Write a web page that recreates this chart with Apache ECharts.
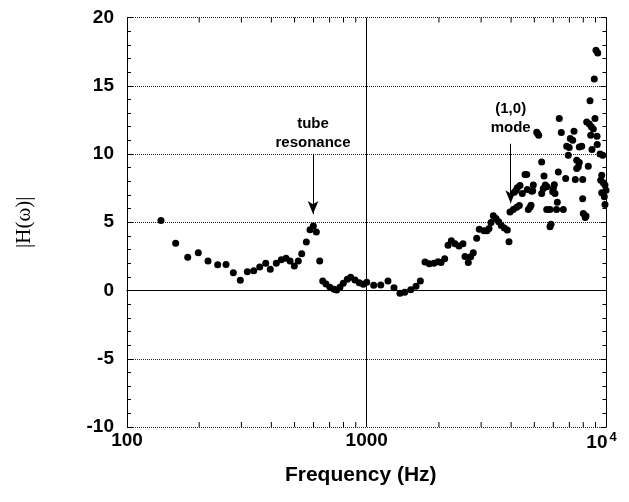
<!DOCTYPE html>
<html>
<head>
<meta charset="utf-8">
<script src="https://cdn.jsdelivr.net/npm/echarts@6.0.0/dist/echarts.min.js"></script>
<style>
html, body { margin: 0; padding: 0; background: #fff; }
#chart { width: 629px; height: 502px; }
</style>
</head>
<body>
<div id="chart"></div>
<script>
// measured points, frequency in Hz
var freqHz = [
	138.6, 159.6, 179.2, 198.3, 217.7, 238.9, 258.8, 277.6, 296.9, 317.6,
	337.7, 357.7, 378.9, 396, 419.5, 440.2, 460.5, 478.6, 498.7, 518.2,
	535.5, 559.7, 579.9, 598.6, 616.1, 636.6, 655.2, 676, 702, 730,
	749, 773, 798, 830, 857, 893, 931, 967, 1000, 1069,
	1144, 1226, 1299, 1376, 1440, 1525, 1605, 1673, 1750, 1824,
	1908, 1983, 2041, 2114, 2183, 2253, 2334, 2425, 2520, 2569,
	2652, 2714, 2782, 2874, 2947, 3083, 3174, 3236, 3299, 3373,
	3461, 3551, 3641, 3747, 3857, 3920, 3958, 4087, 4223, 4330,
	4125, 4194, 4246, 4358, 4455, 4572, 4648, 4675, 4875, 4720,
	4844, 4797, 4951, 4923, 5116, 5160, 5214, 5366, 5366, 5487,
	5450, 5556, 5648, 5632, 5813, 5813, 5870, 5965, 6000, 6058,
	6099, 6190, 6235, 6295, 6354, 6479, 6604, 6757, 6823, 6991,
	6926, 7063, 7228, 7318, 7411, 7511, 7702, 7511, 7628, 7702,
	7881, 7956, 7956, 8002, 8150, 8213, 8268, 8478, 8642, 8810,
	8397, 8535, 8592, 8700, 8893, 8953, 9040, 9190, 9150, 9129,
	9395, 9643, 9458, 9698, 9856, 9952, 9550, 9550, 9790, 9856
];
var magnitude = [
	5.13, 3.47, 2.43, 2.77, 2.16, 1.89, 1.91, 1.30, 0.75, 1.38,
	1.45, 1.72, 1.99, 1.55, 1.99, 2.25, 2.36, 2.16, 1.79, 2.16,
	2.69, 3.55, 4.45, 4.72, 4.28, 2.16, 0.69, 0.47, 0.23, 0.09,
	0.04, 0.23, 0.53, 0.82, 0.97, 0.77, 0.57, 0.45, 0.6, 0.38,
	0.40, 0.69, 0.2, -0.2, -0.13, 0.06, 0.31, 0.69, 2.08, 1.96,
	1.99, 2.11, 2.06, 2.33, 3.31, 3.64, 3.42, 3.26, 3.42, 2.5,
	2.06, 2.47, 2.77, 3.82, 4.48, 4.37, 4.37, 4.55, 4.99, 5.47,
	5.28, 5.03, 4.77, 4.57, 4.43, 3.57, 5.76, 5.94, 6.09, 6.23,
	7.2, 7.33, 7.52, 7.70, 7.11, 8.5, 8.5, 7.40, 7.28, 5.94,
	6.25, 6.09, 7.72, 7.3, 11.6, 11.5, 11.37, 9.42, 7.11, 8.38,
	7.48, 7.72, 7.6, 5.94, 5.94, 4.67, 4.86, 7.23, 7.48, 7.74,
	7.11, 5.94, 6.46, 8.69, 12.6, 11.57, 5.94, 8.2, 10.57, 10.48,
	9.91, 11.13, 11.0, 11.67, 8.13, 9.55, 9.38, 8.94, 9.06, 10.52,
	10.57, 8.13, 6.72, 5.64, 5.35, 5.45, 12.35, 12.2, 12.0, 11.83,
	9.11, 13.91, 11.37, 10.33, 15.49, 12.6, 17.6, 17.4, 10.7, 11.3,
	10.0, 9.91, 8.08, 7.89, 7.72, 7.35, 8.45, 7.16, 6.86, 6.3
];

var yTicks = [-10, -5, 0, 5, 10, 15, 20];
var xMinorTicks = [200, 300, 400, 500, 600, 700, 800, 900, 2000, 3000, 4000, 5000, 6000, 7000, 8000, 9000];

// annotation text + arrows, in data coordinates
var tubeLabel = { x: 597, lines: ['tube', 'resonance'], y: [12.24, 10.85], arrowFrom: 10.0, arrowTo: 5.6 };
var modeLabel = { x: 3985, lines: ['(1,0)', 'mode'], y: [13.34, 11.95], arrowFrom: 10.75, arrowTo: 6.4 };

var points = freqHz.map(function(f, i) { return [f, magnitude[i]]; });

var chart = echarts.init(document.getElementById('chart'));

var boldFont = {
	fontFamily: 'Liberation Sans, Arial, sans-serif',
	fontWeight: 'bold',
	color: '#000'
};

function textPoints(a) {
	return a.lines.map(function(t, i) {
		return { name: t, coord: [a.x, a.y[i]] };
	});
}

chart.setOption({
	animation: false,
	grid: { left: 127, right: 22.5, top: 17.5, bottom: 75 },
	xAxis: [
		{
			type: 'log',
			logBase: 10,
			min: 100,
			max: 10000,
			position: 'bottom',
			name: 'Frequency (Hz)',
			nameLocation: 'middle',
			nameGap: 38,
			nameTextStyle: Object.assign({ fontSize: 21, padding: [0, 12, 0, 0] }, boldFont),
			axisLine: { lineStyle: { color: '#000', width: 1 } },
			axisTick: { inside: true, length: 6, lineStyle: { color: '#000' } },
			splitLine: { show: false },
			axisLabel: Object.assign({
				fontSize: 19,
				margin: 4,
				formatter: function(v) {
					if (v >= 9999) return '{b|10}{s|4}';
					return Math.round(v).toString();
				},
				rich: {
					b: Object.assign({ fontSize: 19 }, boldFont),
					s: Object.assign({ fontSize: 13, verticalAlign: 'top', padding: [0, 10, 10, 2] }, boldFont)
				}
			}, boldFont)
		},
		{
			type: 'log',
			logBase: 10,
			min: 100,
			max: 10000,
			position: 'top',
			axisLine: { lineStyle: { color: '#000', width: 1 } },
			axisTick: { inside: true, length: 6, lineStyle: { color: '#000' } },
			axisLabel: { show: false },
			splitLine: { show: false }
		}
	],
	yAxis: [
		{
			type: 'value',
			min: yTicks[0],
			max: yTicks[yTicks.length - 1],
			interval: 5,
			name: '|H(\u03c9)|',
			nameLocation: 'middle',
			nameRotate: 90,
			nameGap: 92,
			nameTextStyle: { fontFamily: 'Liberation Serif, Times New Roman, serif', fontSize: 21, color: '#000' },
			axisLine: { show: true, lineStyle: { color: '#000', width: 1 } },
			axisTick: { show: true, inside: true, length: 6, lineStyle: { color: '#000' } },
			minorTick: { show: true, splitNumber: 5, length: 4, lineStyle: { color: '#000' } },
			splitLine: { show: true, lineStyle: { type: 'dotted', color: '#222', width: 1 } },
			axisLabel: Object.assign({ fontSize: 19, margin: 13 }, boldFont)
		},
		{
			type: 'value',
			min: yTicks[0],
			max: yTicks[yTicks.length - 1],
			interval: 5,
			position: 'right',
			axisLine: { show: true, lineStyle: { color: '#000', width: 1 } },
			axisTick: { show: true, inside: true, length: 6, lineStyle: { color: '#000' } },
			minorTick: { show: true, splitNumber: 5, length: 4, lineStyle: { color: '#000' } },
			splitLine: { show: false },
			axisLabel: { show: false }
		}
	],
	series: [
		{
			type: 'scatter',
			data: points,
			symbolSize: 7,
			itemStyle: { color: '#000', opacity: 1 },
			silent: true,
			markLine: {
				silent: true,
				symbol: ['none', 'none'],
				label: { show: false },
				lineStyle: { color: '#000', width: 1, type: 'solid' },
				data: [
					{ xAxis: 1000 },
					[
						{ coord: [tubeLabel.x, tubeLabel.arrowFrom], symbol: 'none' },
						{ coord: [tubeLabel.x, tubeLabel.arrowTo], symbol: 'arrow', symbolSize: [8, 13] }
					],
					[
						{ coord: [modeLabel.x, modeLabel.arrowFrom], symbol: 'none' },
						{ coord: [modeLabel.x, modeLabel.arrowTo], symbol: 'arrow', symbolSize: [8, 13] }
					]
				]
			},
			markPoint: {
				silent: true,
				symbol: 'rect',
				symbolSize: 0,
				label: Object.assign({
					show: true,
					position: 'inside',
					fontSize: 15,
					formatter: function(p) { return p.name; }
				}, boldFont),
				data: textPoints(tubeLabel).concat(textPoints(modeLabel))
			}
		},
		{
			// minor ticks of the log axis (200..900, 2000..9000), top and bottom
			type: 'custom',
			silent: true,
			data: xMinorTicks.map(function(f) { return [f, yTicks[0]]; }),
			encode: { x: 0, y: 1 },
			renderItem: function(params, api) {
				var f = api.value(0);
				var b = api.coord([f, yTicks[0]]);
				var t = api.coord([f, yTicks[yTicks.length - 1]]);
				return {
					type: 'group',
					children: [
						{ type: 'line', shape: { x1: b[0], y1: b[1], x2: b[0], y2: b[1] - 5 }, style: { stroke: '#000', lineWidth: 1 } },
						{ type: 'line', shape: { x1: t[0], y1: t[1], x2: t[0], y2: t[1] + 5 }, style: { stroke: '#000', lineWidth: 1 } }
					]
				};
			}
		}
	]
});
</script>
</body>
</html>
